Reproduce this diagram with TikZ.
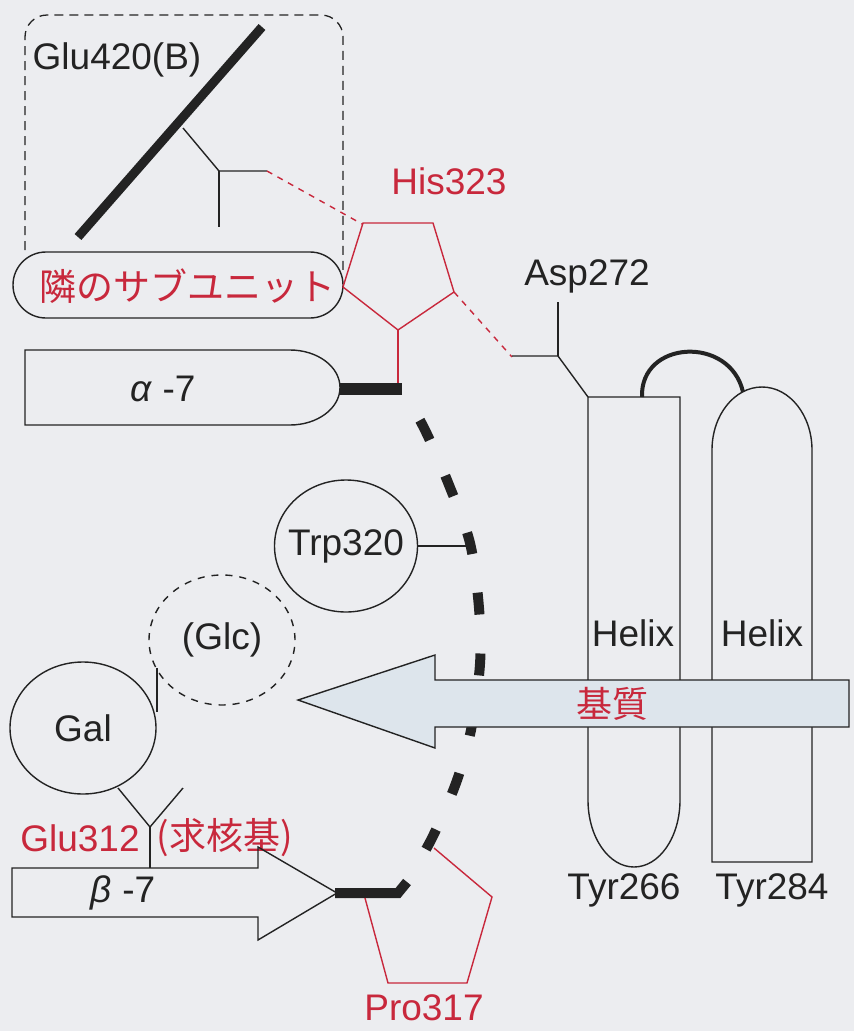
\documentclass[tikz,border=0pt]{standalone}
\usepackage{fontspec}
\setmainfont{Liberation Sans}
\newfontfamily\jp{Noto Sans CJK JP}
\usetikzlibrary{shapes.geometric}
\definecolor{bg}{RGB}{236,237,240}
\definecolor{myred}{RGB}{200,40,60}
\definecolor{ink}{RGB}{35,35,35}
\definecolor{arrowfill}{RGB}{221,229,236}
\begin{document}
\begin{tikzpicture}[x=1pt,y=-1pt,
  lbl/.style={font=\fontsize{37}{44}\selectfont, text=ink, inner sep=0pt},
  rlbl/.style={lbl, text=myred},
  jlbl/.style={font=\jp\fontsize{37}{44}\selectfont, text=myred, inner sep=0pt},
  thinline/.style={draw=ink, line width=1.4pt},
  redline/.style={draw=myred, line width=1.4pt},
  reddash/.style={draw=myred, line width=1.4pt, dash pattern=on 6pt off 6pt},
  oval/.style={ellipse, draw=ink, line width=1.4pt, inner sep=0pt, outer sep=0pt},
]
\fill[bg] (0,0) rectangle (854,1031);
\useasboundingbox (0,0) rectangle (854,1031);

% neighbouring subunit
\draw[thinline, rounded corners=33pt] (13,252) rectangle (343,318);
\node[jlbl] (subunit) at (187,286) {隣のサブユニット};
\draw[draw=ink, line width=1.3pt, dash pattern=on 9pt off 6pt, rounded corners=22pt]
  (25,250) -- (25,15) -- (343,15) -- (343,270);
\node[lbl] (glu420) at (117,60) {Glu420(B)};
\draw[ink, line width=9pt] (262,27) -- (78,237);
\draw[thinline] (183,128) -- (219,171) -- (267,171);
\draw[thinline] (219,171) -- (219,227);
\draw[reddash] (267,171) -- (362,224);

% His323
\node[rlbl] (his) at (449,181) {His323};
\draw[redline] (363,223) -- (433,223) -- (454,292) -- (398,330) -- (343,287) -- cycle;
\draw[redline] (398,330) -- (398,384);
\draw[reddash] (454,292) -- (512,357);

% Asp272
\node[lbl] (asp) at (587,276) {Asp272};
\draw[thinline] (558,302) -- (558,356);
\draw[thinline] (512,356) -- (558,356) -- (588,397);

% helices
\draw[thinline] (588,397) -- (680,397) -- (680,800)
  arc[start angle=0, end angle=-180, x radius=46pt, y radius=67pt] -- cycle;
\draw[thinline] (712,862) -- (712,450)
  arc[start angle=180, end angle=0, x radius=50pt, y radius=63pt] -- (812,862) -- cycle;
\draw[ink, line width=4pt] (642,397) .. controls (640,340) and (730,335) .. (743,392);
\node[lbl] (helix1) at (633,633) {Helix};
\node[lbl] (helix2) at (762,633) {Helix};
\node[lbl] (tyr266) at (624,890) {Tyr266};
\node[lbl] (tyr284) at (772,890) {Tyr284};

% alpha-7
\draw[thinline] (25,350) -- (290,350)
  arc[start angle=90, end angle=-90, x radius=50pt, y radius=37.5pt] -- (25,425) -- cycle;
\node[lbl] (alpha) at (163,389) {\textit{α} -7};
\draw[ink, line width=12pt] (340,389) -- (402,389);

% backbone loop
\draw[ink, line width=10pt, dash pattern=on 22pt off 39pt, dash phase=25pt]
  plot[smooth, tension=0.55] coordinates {(402,389) (425,430) (449,485) (470,543) (479,608) (480,664) (471,730) (456,783) (432,838) (407,882)};

% Trp320
\node[oval, minimum width=143pt, minimum height=132pt] (trp) at (346,546) {};
\node[lbl] (trptext) at (trp.center) {Trp320};
\coordinate (trpend) at (470,546);
\draw[thinline] (trp.east) -- (trpend);

% sugars
\node[oval, dash pattern=on 7pt off 7pt, minimum width=146pt, minimum height=130pt] (glc) at (222,640) {};
\node[lbl] (glctext) at (glc.center) {(Glc)};
\node[oval, minimum width=146pt, minimum height=132pt] (gal) at (83,728) {};
\node[lbl] (galtext) at (gal.center) {Gal};
\draw[thinline] (157,668) -- (157,712);
\draw[thinline] (118,788) -- (150,827) -- (183,788);
\draw[thinline] (150,827) -- (150,868);

% substrate arrow
\draw[thinline, fill=arrowfill] (849,680) -- (435,680) -- (435,655) -- (298,700) -- (435,748) -- (435,727) -- (849,727) -- cycle;
\node[jlbl, font=\jp\fontsize{36}{42}\selectfont] (substrate) at (612,704) {基質};

% Glu312
\node[rlbl] (glu312) at (80,838) {Glu312};
\node[jlbl] (nuc) at (225,838) {(求核基)};

% beta-7
\draw[thinline] (12,868) -- (258,868) -- (258,847) -- (337,893) -- (258,940) -- (258,917) -- (12,917) -- cycle;
\node[lbl] (beta) at (123,893) {\textit{β} -7};
\draw[ink, line width=10pt] (335,893) -- (398,893) -- (407,882);

% Pro317
\draw[redline] (365,898) -- (388,983) -- (467,983) -- (492,897) -- (434,848);
\node[rlbl] (pro) at (424,1008) {Pro317};
\end{tikzpicture}
\end{document}
